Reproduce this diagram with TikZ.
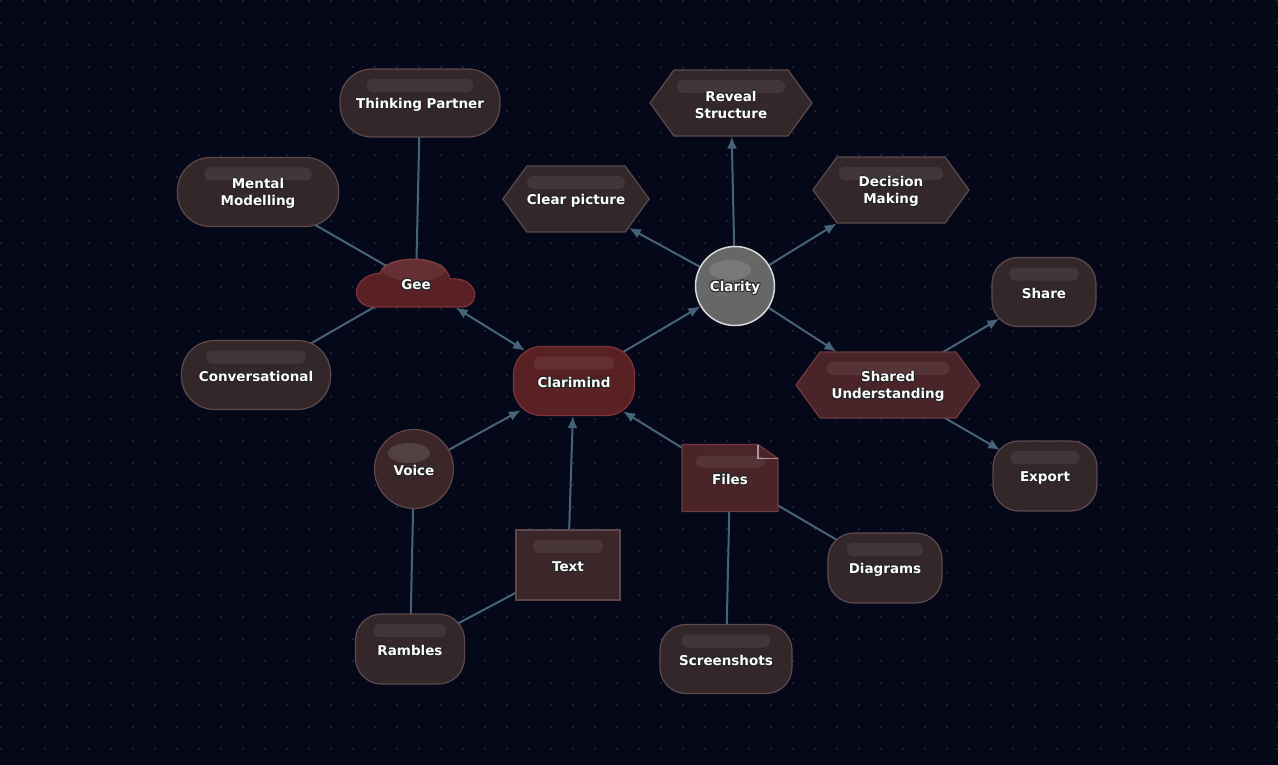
\documentclass[tikz,border=0pt]{standalone}
\usepackage{fontspec}
\setmainfont{DejaVu Sans}
\usepackage[copies]{contour}
\usetikzlibrary{arrows.meta, calc, shapes.symbols}
\contourlength{0.8pt}

\definecolor{nightbg}{HTML}{050818}
\definecolor{griddot}{HTML}{1D2232}
\definecolor{edgeblue}{HTML}{476378}
\definecolor{plumfill}{HTML}{33272A}
\definecolor{plumline}{HTML}{5E4A4E}
\definecolor{wine}{HTML}{5A2125}
\definecolor{wineline}{HTML}{7E3338}
\definecolor{claretfill}{HTML}{4A2428}
\definecolor{claretline}{HTML}{6E3A3F}
\definecolor{cocoafill}{HTML}{3B2729}
\definecolor{cocoaline}{HTML}{604649}
\definecolor{pebble}{HTML}{676767}

\pgfdeclarelayer{backdrop}
\pgfdeclarelayer{wires}
\pgfsetlayers{backdrop,wires,main}

\newcommand{\lbl}[1]{\raisebox{-2pt}[\height][\depth]{\contour{black!85}{#1}}}

\tikzset{
  % Graph arrow style
  garr/.style={draw=edgeblue, line width=2pt, -{Latex[length=12pt,width=10pt]}},
  % plain link, no head
  glink/.style={draw=edgeblue, line width=2pt},
  % head lands on a rounded corner
  corner/.style={shorten >=-9pt},
  % General options for all nodes
  gnode/.style={draw=plumline, fill=plumfill, line width=1.2pt, text=white,
    inner sep=0pt, align=center, font=\bfseries\fontsize{13.5}{17}\selectfont},
  % light bar near the top
  gloss/.style={path picture={
    \fill[white, opacity=0.07, rounded corners=6pt]
      ($(path picture bounding box.north west)!0.1667!(path picture bounding box.north east)+(0pt,-10pt)$)
      rectangle
      ($(path picture bounding box.north west)!0.8333!(path picture bounding box.north east)+(0pt,-23pt)$);
  }},
  roundgloss/.style={path picture={
    \fill[white, opacity=0.12]
      ($(path picture bounding box.center)+(-5pt,16pt)$) ellipse [x radius=21pt, y radius=10pt];
  }},
  % special styles
  pill/.style={gnode, gloss, rectangle, rounded corners=#1},
  pill/.default=26pt,
  hexa/.style={gnode, gloss, signal, signal to=west and east,
    signal pointer angle=108, minimum height=66pt},
  ball/.style={gnode, roundgloss, circle, minimum size=79pt},
  sq/.style={gnode, gloss, rectangle, fill=cocoafill, draw=cocoaline},
}

\begin{document}
\begin{tikzpicture}[x=1pt, y=-1pt]
  \useasboundingbox (0,0) rectangle (1278,765);
  \begin{pgfonlayer}{backdrop}
    \fill[nightbg] (0,0) rectangle (1278,765);
    \foreach \gx in {0,...,58}
      \foreach \gy in {0,...,34}
        \fill[griddot] (\gx*22, \gy*22) rectangle ++(1.6,1.6);
  \end{pgfonlayer}

  % left cluster
  \node[pill=32pt, minimum width=160pt, minimum height=68pt] (thinking) at (420,103) {\lbl{Thinking Partner}};
  \node[pill=33pt, minimum width=161pt, minimum height=69pt] (mental) at (258,192) {\lbl{Mental}\\\lbl{Modelling}};
  \node[pill=33pt, minimum width=149pt, minimum height=69pt] (conv) at (256,375) {\lbl{Conversational}};

  \coordinate (geepos) at (416,283);
  \begin{scope}[shift={(geepos)}]
    \filldraw[fill=wine, draw=wineline, line width=1.2pt]
      (-43,24) .. controls (-66,23) and (-66,-7) .. (-36,-10)
      .. controls (-31,-28) and (29,-31) .. (34,-4)
      .. controls (62,-7) and (66,22) .. (47,24) -- cycle;
    \fill[white, opacity=0.07] (-2,-13) ellipse [x radius=32, y radius=11];
  \end{scope}
  \node[gnode, draw=none, fill=none, minimum width=120pt, minimum height=48pt] (gee) at (geepos) {\lbl{Gee}};

  % centre
  \node[pill=28pt, fill=wine, draw=wineline, minimum width=121pt, minimum height=69pt] (clarimind) at (574,381) {\lbl{Clarimind}};
  \node[ball, fill=pebble, draw=white!85!black, line width=1.5pt] (clarity) at (735,286) {\lbl{Clarity}};

  % outcomes
  \node[hexa, minimum width=144pt] (clear) at (576,199) {\lbl{Clear picture}};
  \node[hexa, minimum width=162pt] (reveal) at (731,103) {\lbl{Reveal}\\\lbl{Structure}};
  \node[hexa, minimum width=156pt] (decision) at (891,190) {\lbl{Decision}\\\lbl{Making}};
  \node[hexa, minimum width=184pt, fill=claretfill, draw=claretline] (shared) at (888,385) {\lbl{Shared}\\\lbl{Understanding}};
  \node[pill, minimum width=104pt, minimum height=69pt] (share) at (1044,292) {\lbl{Share}};
  \node[pill, minimum width=104pt, minimum height=70pt] (export) at (1045,476) {\lbl{Export}};

  % inputs
  \node[ball, fill=cocoafill, draw=cocoaline] (voice) at (414,469) {\lbl{Voice}};
  \node[sq, minimum width=104pt, minimum height=70pt] (text) at (568,565) {\lbl{Text}};

  \coordinate (filespos) at (730,477.5);
  \begin{scope}[shift={(filespos)}]
    \filldraw[fill=claretfill, draw=claretline, line width=1.2pt]
      (-48,-33) -- (28,-33) -- (48,-19) -- (48,34) -- (-48,34) -- cycle;
    \draw[claretline!55!white, line width=1.2pt] (28,-33) -- (28,-19) -- (48,-19);
    \fill[white, opacity=0.07, rounded corners=6pt] (-34,-22) rectangle (35,-10);
  \end{scope}
  \node[gnode, draw=none, fill=none, minimum width=96pt, minimum height=67pt] (files) at (filespos) {\lbl{Files}};

  \node[pill, minimum width=109pt, minimum height=70pt] (rambles) at (410,649) {\lbl{Rambles}};
  \node[pill, minimum width=114pt, minimum height=70pt] (diagrams) at (885,568) {\lbl{Diagrams}};
  \node[pill, minimum width=132pt, minimum height=69pt] (screens) at (726,659) {\lbl{Screenshots}};

  \begin{pgfonlayer}{wires}
    \draw[glink] (thinking.center) -- (gee.center);
    \draw[glink] (mental.center) -- (gee.center);
    \draw[glink] (conv.center) -- (gee.center);
    \draw[garr, corner, {Latex[length=12pt,width=10pt]}-{Latex[length=12pt,width=10pt]}] (gee) -- (clarimind);
    \draw[garr] (clarimind.center) -- (clarity);

    \draw[garr] (clarity.center) -- (clear);
    \draw[garr] (clarity.center) -- (reveal);
    \draw[garr] (clarity.center) -- (decision);
    \draw[garr] (clarity.center) -- (shared);
    \draw[garr, corner] (shared.center) -- (share);
    \draw[garr, corner] (shared.center) -- (export);

    \draw[garr, corner] (voice.center) -- (clarimind);
    \draw[garr] (text.center) -- (clarimind);
    \draw[garr, corner] (files.center) -- (clarimind);
    \draw[glink] (voice.center) -- (rambles.center);
    \draw[glink] (rambles.center) -- (text.center);
    \draw[glink] (files.center) -- (diagrams.center);
    \draw[glink] (files.center) -- (screens.center);
  \end{pgfonlayer}
\end{tikzpicture}
\end{document}
